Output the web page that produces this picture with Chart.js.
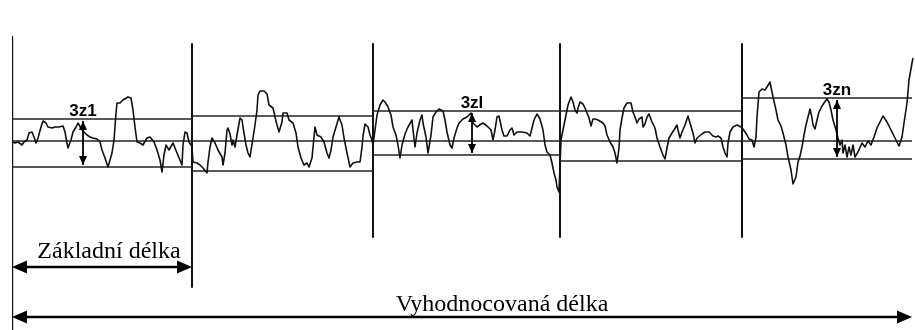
<!DOCTYPE html>
<html lang="cs">
<head>
  <meta charset="UTF-8">
  <title>Základní a vyhodnocovaná délka</title>
  <style>
    body {
      margin: 0;
      background: #fff;
    }
    canvas {
      display: block;
    }
  </style>
</head>
<body>
  <canvas id="profileChart" width="915" height="330"></canvas>

  <script src="https://cdn.jsdelivr.net/npm/chart.js"></script>
  <script>
    // profile, x = position along length, y = deviation from mean line
    const profileX = [
      0, 3, 6, 10, 12, 15, 17, 20, 22, 24, 26, 29, 31, 34, 36, 40, 43, 47, 51, 53, 55, 56, 59, 61, 64, 66, 70, 75, 78, 81, 85, 88, 90, 93, 96, 100, 102, 104, 105, 108, 111, 116, 119, 121, 123, 125, 128, 131, 135, 138, 142, 145, 148, 150, 152, 154, 157, 161, 165, 170, 171, 173, 175, 177, 179, 180,
      181, 185, 188, 191, 195, 196, 198, 200, 203, 206, 210, 211, 213, 215, 216, 218, 220, 221, 223, 225, 228, 230, 231, 234, 236, 238, 241, 243, 245, 246, 248, 252, 255, 257, 261, 263, 265, 267, 270, 271, 275, 277, 281, 284, 286, 289, 292, 295, 297, 300, 302, 303, 305, 309, 312, 315, 317, 319, 321, 324, 327, 330, 332, 335, 338, 341, 345, 348, 350, 351, 353, 356, 358, 360, 361,
      363, 365, 368, 371, 373, 376, 379, 381, 384, 386, 388, 390, 393, 396, 400, 401, 403, 405, 408, 410, 411, 414, 416, 419, 421, 424, 427, 431, 433, 435, 438, 440, 442, 445, 447, 451, 455, 459, 461, 465, 469, 471, 475, 479, 481, 483, 485, 487, 490, 492, 495, 498, 500, 502, 505, 510, 515, 518, 520, 522, 525, 528, 531, 533, 535, 538, 540, 542, 544, 545, 547, 549,
      551, 553, 555, 556, 559, 561, 563, 565, 566, 568, 571, 573, 575, 577, 579, 581, 583, 586, 591, 593, 595, 598, 601, 603, 605, 607, 608, 610, 612, 615, 619, 621, 623, 625, 627, 630, 631, 633, 635, 637, 640, 643, 645, 648, 651, 653, 655, 657, 660, 662, 665, 666, 668, 670, 673, 676, 678, 681, 683, 685, 690, 693, 697, 701, 704, 706, 709, 711, 713, 715, 716, 718, 721, 725, 729, 731, 735, 737,
      740, 742, 744, 745, 747, 750, 753, 755, 758, 760, 761, 764, 766, 769, 771, 774, 776, 779, 781, 784, 786, 788, 790, 792, 794, 796, 798, 800, 801, 803, 805, 807, 810, 812, 815, 817, 819, 821, 824, 826, 828, 830, 831, 833, 835, 837, 839, 841, 843, 846, 850, 853, 856, 859, 862, 865, 869, 871, 875, 878, 882, 885, 887, 890, 892, 895, 897, 900, 901
    ];
    const profileY = [
      -1, -2, -1, -4, -1, 1, 8, 9, 4, -2, 3, 14, 20, 18, 14, 13, 14, 14, 15, 9, -2, -7, 1, 9, 14, 18, 11, 6, 4, 3, 2, -1, -9, -17, -26, -12, 1, 28, 38, 38, 41, 44, 43, 31, 14, -1, -2, -4, 3, 4, -1, -9, -19, -31, -14, -4, -9, -2, -12, -24, -4, 9, 8, -1, -4, -6,
      -21, -22, -24, -27, -32, -21, -6, 3, -2, -9, -16, -24, -12, 11, 13, 7, -4, 1, -6, 6, 23, 21, 14, -4, -12, -16, 3, 16, 31, 46, 50, 50, 47, 36, 33, 24, 16, 9, 19, 28, 28, 21, 18, 8, -6, -17, -24, -22, -26, -17, 4, 14, 6, 4, -1, -12, -17, -9, 4, 14, 24, 16, 3, -12, -26, -22, -21, -21, -6, 5, 17, 14, 6, 1, -4,
      11, 26, 36, 41, 39, 34, 26, 14, 6, -4, -17, -4, 7, 14, 21, 11, -6, 8, 21, 26, 18, 4, -12, 6, 24, 29, 32, 30, 21, 9, -4, -7, 3, 13, 18, 22, 24, 28, 18, 14, 17, 18, 15, 11, 1, 11, 24, 25, 11, 5, 5, 11, 13, 6, 9, 9, 8, 5, 13, 21, 27, 22, 11, -4, -11, -14, -22, -32, -39, -46, -51, 1,
      11, 21, 31, 36, 44, 39, 31, 28, 33, 39, 37, 33, 28, 23, 15, 22, 22, 21, 18, 15, 6, -1, -6, -12, -22, -7, 11, 23, 33, 38, 38, 29, 24, 18, 22, 24, 14, 17, 24, 27, 19, 13, 3, -6, -14, -18, -7, 3, 8, 11, 16, 11, 3, 9, 16, 25, 18, 8, -2, 3, 7, 9, 9, 5, 4, 5, 3, -6, -12, -16, -2, 9, 14, 16, 14, 12, 6, 2,
      1, -6, 4, 24, 49, 52, 51, 54, 59, 49, 44, 31, 21, 15, 8, -4, -16, -29, -43, -36, -21, -15, -6, 6, 16, 24, 32, 23, 16, 12, 21, 29, 35, 38, 42, 39, 31, 21, 11, 3, -4, 1, -12, -4, -16, -6, -14, -4, -16, -11, -2, -6, 0, -4, 4, 13, 21, 25, 19, 13, 5, -1, -5, 4, 18, 38, 61, 78, 83
    ];

    // sampling lengths (boundaries) and the peak / valley lines in each one
    const segEdges = [0, 180, 361, 548, 730, 900];
    const upperLevel = [22, 25, 30, 30, 43];
    const lowerLevel = [-26, -30, -14, -20, -18];

    // single peak-to-valley heights marked in the chart
    const zLabels = ['3z1', '3zl', '3zn'];
    const zMarkX = [71, 460, 825];
    const zMarkSeg = [0, 2, 4];

    const dimLabels = ['Základní délka', 'Vyhodnocovaná délka'];
    const dimFrom = [0, 0];
    const dimTo = [180, 900];

    // how far the separator lines reach (top, bottom)
    const sepTop = [104, 97, 97, 97, 97];
    const sepBottom = [-189, -146, -96, -96, -96];
    const dimLevel = [-126, -176];

    const datasets = [];
    datasets.push({
      data: profileX.map((x, i) => ({ x: x, y: profileY[i] })),
      borderColor: '#111',
      borderWidth: 1.6
    });
    // mean line over the whole length
    datasets.push({
      data: [{ x: segEdges[0], y: 0 }, { x: segEdges[segEdges.length - 1], y: 0 }],
      borderColor: '#222',
      borderWidth: 1.6
    });
    for (let i = 0; i < upperLevel.length; i++) {
      datasets.push({
        data: [{ x: segEdges[i], y: upperLevel[i] }, { x: segEdges[i + 1], y: upperLevel[i] }],
        borderColor: '#222',
        borderWidth: 1.6
      });
      datasets.push({
        data: [{ x: segEdges[i], y: lowerLevel[i] }, { x: segEdges[i + 1], y: lowerLevel[i] }],
        borderColor: '#222',
        borderWidth: 1.6
      });
      datasets.push({
        data: [{ x: segEdges[i], y: sepTop[i] }, { x: segEdges[i], y: sepBottom[i] }],
        borderColor: '#111',
        borderWidth: i === 0 ? 2.4 : 2
      });
    }

    function head(ctx, x, y, angle, len, half) {
      ctx.save();
      ctx.translate(x, y);
      ctx.rotate(angle);
      ctx.beginPath();
      ctx.moveTo(0, 0);
      ctx.lineTo(-len, -half);
      ctx.lineTo(-len, half);
      ctx.closePath();
      ctx.fill();
      ctx.restore();
    }

    const annotate = {
      id: 'annotate',
      afterDatasetsDraw(chart) {
        const ctx = chart.ctx;
        const xs = chart.scales.x;
        const ys = chart.scales.y;
        ctx.save();
        ctx.fillStyle = '#000';
        ctx.strokeStyle = '#000';

        // Rz markers
        zLabels.forEach((label, i) => {
          const s = zMarkSeg[i];
          const px = xs.getPixelForValue(zMarkX[i]);
          const top = ys.getPixelForValue(upperLevel[s]);
          const bot = ys.getPixelForValue(lowerLevel[s]);
          ctx.lineWidth = 1.8;
          ctx.beginPath();
          ctx.moveTo(px, top + 2);
          ctx.lineTo(px, bot - 2);
          ctx.stroke();
          head(ctx, px, top + 2, -Math.PI / 2, 9, 4);
          head(ctx, px, bot - 2, Math.PI / 2, 9, 4);
          ctx.font = 'bold 17px "Liberation Sans", Arial, sans-serif';
          ctx.textAlign = 'center';
          ctx.textBaseline = 'alphabetic';
          ctx.fillText(label, px, top - 3);
        });

        // length dimensions
        dimLabels.forEach((label, i) => {
          const x0 = xs.getPixelForValue(dimFrom[i]);
          const x1 = xs.getPixelForValue(dimTo[i]);
          const py = ys.getPixelForValue(dimLevel[i]);
          ctx.lineWidth = 2.6;
          ctx.beginPath();
          ctx.moveTo(x0 + 6, py);
          ctx.lineTo(x1 - 6, py);
          ctx.stroke();
          head(ctx, x0, py, Math.PI, 15, 6.5);
          head(ctx, x1, py, 0, 15, 6.5);
          ctx.font = '24px "Liberation Serif", "Times New Roman", serif';
          ctx.textAlign = 'center';
          ctx.textBaseline = 'alphabetic';
          ctx.fillText(label, (x0 + x1) / 2 + (i === 0 ? 7 : 40), py - (i === 0 ? 9 : 6));
        });
        ctx.restore();
      }
    };

    new Chart(document.getElementById('profileChart').getContext('2d'), {
      type: 'line',
      data: { datasets: datasets },
      options: {
        responsive: false,
        animation: false,
        layout: { padding: { left: 12, right: 1, top: 0, bottom: 0 } },
        elements: {
          point: { radius: 0, hoverRadius: 0 },
          line: { tension: 0, fill: false, borderJoinStyle: 'round' }
        },
        plugins: {
          legend: { display: false },
          tooltip: { enabled: false }
        },
        scales: {
          x: { type: 'linear', min: 0, max: 902, display: false },
          y: { min: -189, max: 141, display: false }
        }
      },
      plugins: [annotate]
    });
  </script>
</body>
</html>
